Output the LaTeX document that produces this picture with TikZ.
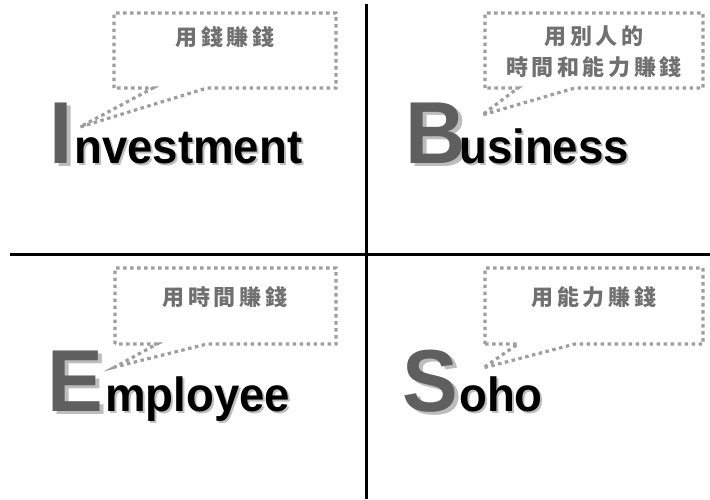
\documentclass[tikz,border=0pt]{standalone}
\usepackage{fontspec}
\newfontfamily\wordfont[FakeStretch=0.95]{Liberation Sans}
\newfontfamily\cjk[LetterSpace=16]{Noto Sans CJK TC}
\definecolor{lettergray}{HTML}{5F5F5F}
\definecolor{shadowgray}{HTML}{BDBDBD}
\definecolor{dotgray}{HTML}{9E9E9E}
\definecolor{notegray}{HTML}{707070}

\begin{document}
\begin{tikzpicture}[x=1pt,y=-1pt,
    divider/.style={line width=3pt},
    callout/.style={dotgray, line width=3.2pt, dash pattern=on 3.5pt off 3.5pt},
    note/.style={notegray, font=\cjk\bfseries\fontsize{22}{31}\selectfont, align=center, inner sep=0pt},
    capletter/.style={lettergray, font=\wordfont\bfseries\fontsize{88}{88}\selectfont, anchor=base west, inner sep=0pt},
    capshadow/.style={capletter, shadowgray},
    restword/.style={black, font=\wordfont\bfseries\fontsize{48}{48}\selectfont, anchor=base west, inner sep=0pt},
    restshadow/.style={restword, shadowgray}]
  \useasboundingbox (0,0) rectangle (710,499);

  % dividers
  \coordinate (vtop) at (366,4);
  \coordinate (vbot) at (366,499);
  \coordinate (hleft) at (10,254);
  \coordinate (hright) at (710,254);
  \draw[divider] (vtop) -- (vbot);
  \draw[divider] (hleft) -- (hright);

  % Investment
  \node[capshadow] at (53,166) {I};
  \node[capletter] (I) at (49,163) {I};
  \node[restshadow] at (76,165) {nvestment};
  \node[restword] (nvestment) at (74,163) {nvestment};
  \draw[callout] (114,88) -- (114,13) -- (336,13) -- (336,88) -- (207,88) -- (80,127) -- (153,88) -- cycle;
  \node[note] (invnote) at (225,37) {用錢賺錢};

  % Business
  \node[capshadow] at (409,166) {B};
  \node[capletter] (B) at (405,163) {B};
  \node[restshadow] at (461,165) {usiness};
  \node[restword] (usiness) at (459,163) {usiness};
  \draw[callout] (485,88) -- (485,13) -- (703,13) -- (703,88) -- (575,88) -- (482,115) -- (518,88) -- cycle;
  \node[note] (busnote) at (594,52) {用別人的\\時間和能力賺錢};

  % Employee
  \node[capshadow] at (51,414) {E};
  \node[capletter] (E) at (47,411) {E};
  \node[restshadow] at (107,413) {mployee};
  \node[restword] (mployee) at (105,411) {mployee};
  \draw[callout] (115,344) -- (115,268) -- (336,268) -- (336,344) -- (207,344) -- (115,367) -- (157,344) -- cycle;
  \node[note] (empnote) at (225,297) {用時間賺錢};

  % Soho
  \node[capshadow] at (406,414) {S};
  \node[capletter] (S) at (402,411) {S};
  \node[restshadow] at (461,413) {oho};
  \node[restword] (oho) at (459,411) {oho};
  \draw[callout] (485,344) -- (485,268) -- (703,268) -- (703,344) -- (575,344) -- (483,368) -- (518,344) -- cycle;
  \node[note] (sohonote) at (594,297) {用能力賺錢};
\end{tikzpicture}
\end{document}
